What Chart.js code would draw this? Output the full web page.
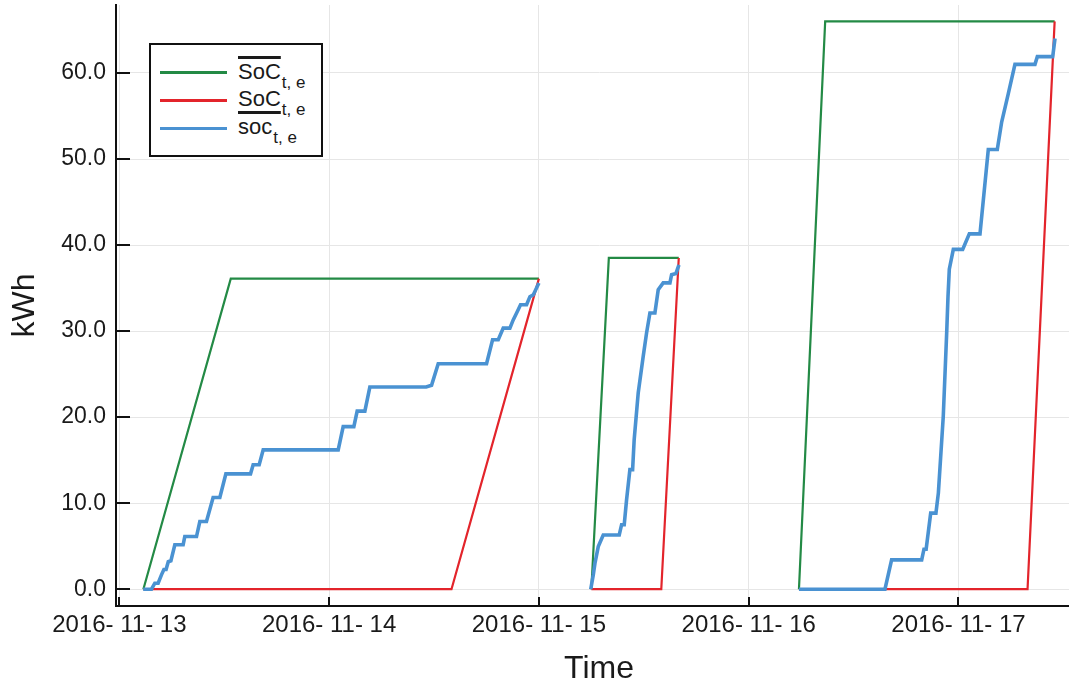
<!DOCTYPE html>
<html>
<head>
<meta charset="utf-8">
<style>
  html, body { margin: 0; padding: 0; overflow: hidden; background: #fff; }
  #wrap { position: relative; width: 1090px; height: 686px; }
  canvas { display: block; }
  .lg { position: absolute; font-family: "Liberation Sans", Arial, sans-serif; color: #1a1a1a; }
  #lgbox { left: 149px; top: 43px; width: 174px; height: 114px; box-sizing: border-box; border: 2px solid #111; background: #fff; }
  .swatch { position: absolute; left: 160px; width: 67px; height: 3px; }
  .lab { position: absolute; left: 238px; font-size: 22px; line-height: 22px; white-space: nowrap; }
  .sub { font-size: 17px; position: relative; top: 9px; margin-left: 1px; }
  .ov { text-decoration: overline; text-decoration-thickness: 3px; }
  .un { text-decoration: underline; text-decoration-thickness: 3px; text-underline-offset: 5px; }
</style>
<script src="https://cdn.jsdelivr.net/npm/chart.js@4.4.1/dist/chart.umd.min.js"></script>
</head>
<body>
<div id="wrap">
  <canvas id="c" width="1090" height="686"></canvas>
  <div id="lgbox" class="lg"></div>
  <div class="swatch" style="top:71px;background:#238a45"></div>
  <div class="swatch" style="top:99px;background:#e3242b"></div>
  <div class="swatch" style="top:127px;background:#4a92d2"></div>
  <div class="lab lg" style="top:61px"><span class="ov">SoC</span><span class="sub">t, e</span></div>
  <div class="lab lg" style="top:88px"><span class="un">SoC</span><span class="sub">t, e</span></div>
  <div class="lab lg" style="top:116px"><span>soc</span><span class="sub">t, e</span></div>
</div>
<script>
// ---- data (x = hours since 2016-11-13 00:00, y = kWh; null = gap between charging sessions) ----
const upperX = [2.75, 12.75, 48, 51, 54, 56, 64, 71, 77.75, 80.75, 107];
const upperY = [0, 36.1, 36.1, null, 0, 38.5, 38.5, null, 0, 66.0, 66.0];

const lowerX = [2.75, 38, 48, 51, 54, 62, 64, 71, 77.75, 103.9, 107];
const lowerY = [0, 0, 36.1, null, 0, 0, 38.5, null, 0, 0, 66.0];

const socX = [
  2.73, 3.68, 4.06, 4.44, 4.82, 5.1, 5.35, 5.6, 5.9, 6.35, 7.30, 7.49, 8.83, 9.21, 9.97,
  10.73, 11.50, 12.19, 15.01, 15.31, 16.0, 16.46, 25.04, 25.61, 26.83, 27.21, 28.09, 28.66,
  35.1, 35.72, 36.48, 42.01, 42.70, 43.35, 43.92, 44.68, 45.06, 45.45, 45.9, 46.59, 46.97, 47.35, 48,
  51,
  53.93, 54.22, 54.41, 54.79, 55.36, 57.19, 57.46, 57.76, 58.03, 58.41, 58.72, 58.9, 59.36,
  59.93, 60.32, 60.7, 61.27, 61.65, 62.22, 62.99, 63.18, 63.68, 64.02,
  71,
  77.75, 87.59, 88.35, 91.79, 92.05, 92.3, 92.82, 93.42, 93.7, 94.26, 94.65, 94.8, 94.95,
  95.41, 96.48, 97.24, 98.46, 99.41, 100.44, 100.94, 101.70, 102.46, 104.75, 105.02, 106.78, 107.04
];
const socY = [
  0, 0, 0.7, 0.7, 1.67, 2.3, 2.3, 3.2, 3.3, 5.16, 5.16, 6.12, 6.12, 7.87, 7.87,
  10.66, 10.66, 13.41, 13.41, 14.46, 14.46, 16.2, 16.2, 18.9, 18.9, 20.7, 20.7, 23.5,
  23.5, 23.7, 26.2, 26.2, 29.0, 29.0, 30.35, 30.35, 31.3, 32.1, 33.06, 33.06, 34.0, 34.2, 35.6,
  null,
  0, 1.67, 3.0, 4.96, 6.3, 6.3, 7.5, 7.5, 10.4, 13.9, 13.9, 17.4, 22.8,
  27.05, 29.8, 32.1, 32.1, 34.8, 35.6, 35.6, 36.55, 36.7, 37.7,
  null,
  0, 0, 3.41, 3.41, 4.65, 4.65, 8.84, 8.84, 11.2, 20.1, 29.8, 34.0, 37.2,
  39.5, 39.5, 41.3, 41.3, 51.1, 51.1, 54.3, 57.6, 61.0, 61.0, 61.9, 61.9, 64.0
];

const xTickDates = ['2016- 11- 13', '2016- 11- 14', '2016- 11- 15', '2016- 11- 16', '2016- 11- 17'];
const seriesNames = ['SoC upper (t, e)', 'SoC lower (t, e)', 'soc (t, e)'];

const pts = (xs, ys) => xs.map((x, i) => ({ x: x, y: ys[i] }));

const FONT = '"Liberation Sans", Arial, sans-serif';
const TXT = '#1a1a1a';

const innerTicks = {
  id: 'innerTicks',
  afterDraw(chart) {
    const { ctx, chartArea: a, scales } = chart;
    ctx.save();
    ctx.strokeStyle = '#111';
    ctx.lineWidth = 2;
    scales.y.ticks.forEach(t => {
      const py = Math.round(scales.y.getPixelForValue(t.value));
      ctx.beginPath(); ctx.moveTo(a.left, py); ctx.lineTo(a.left + 14, py); ctx.stroke();
    });
    scales.x.ticks.forEach(t => {
      const px = Math.round(scales.x.getPixelForValue(t.value));
      ctx.beginPath(); ctx.moveTo(px, a.bottom); ctx.lineTo(px, a.bottom - 9); ctx.stroke();
    });
    ctx.restore();
  }
};

new Chart(document.getElementById('c'), {
  type: 'line',
  data: {
    datasets: [
      { label: seriesNames[0], data: pts(upperX, upperY), borderColor: '#238a45', borderWidth: 2.2, order: 2 },
      { label: seriesNames[1], data: pts(lowerX, lowerY), borderColor: '#e3242b', borderWidth: 2.2, order: 1 },
      { label: seriesNames[2], data: pts(socX, socY), borderColor: '#4a92d2', borderWidth: 3.6, order: 0 }
    ]
  },
  options: {
    responsive: false,
    animation: false,
    devicePixelRatio: 1,
    spanGaps: false,
    elements: { point: { radius: 0 }, line: { tension: 0, borderJoinStyle: 'miter', fill: false } },
    layout: { padding: { left: 0, right: 8, top: 5, bottom: 0 } },
    plugins: { legend: { display: false }, tooltip: { enabled: false } },
    scales: {
      x: {
        type: 'linear',
        min: -0.38,
        max: 110.13,
        afterFit(s) { s.height = 80; s.paddingLeft = 0; s.paddingRight = 0; },
        grid: { color: '#e6e6e6', lineWidth: 1, drawTicks: false },
        border: { color: '#111', width: 2 },
        ticks: {
          stepSize: 24,
          includeBounds: false,
          padding: 5,
          maxRotation: 0,
          autoSkip: false,
          color: TXT,
          font: { family: FONT, size: 24 },
          callback: v => { const k = Math.round(v / 24); return (v % 24 === 0 && xTickDates[k]) ? xTickDates[k] : ''; }
        },
        title: { display: true, text: 'Time', color: TXT, font: { family: FONT, size: 32, lineHeight: 1 }, padding: { top: 0, bottom: 1 } }
      },
      y: {
        type: 'linear',
        min: -1.95,
        max: 67.9,
        afterFit(s) { s.width = 116; s.paddingTop = 0; s.paddingBottom = 0; },
        grid: { color: '#e6e6e6', lineWidth: 1, drawTicks: false },
        border: { color: '#111', width: 2 },
        ticks: {
          stepSize: 10,
          includeBounds: false,
          padding: 10,
          color: TXT,
          font: { family: FONT, size: 23 },
          callback: v => v.toFixed(1)
        },
        title: { display: true, text: 'kWh', color: TXT, font: { family: FONT, size: 32, lineHeight: 1 }, padding: { top: 9, bottom: 0 } }
      }
    }
  },
  plugins: [innerTicks]
});
</script>
</body>
</html>
